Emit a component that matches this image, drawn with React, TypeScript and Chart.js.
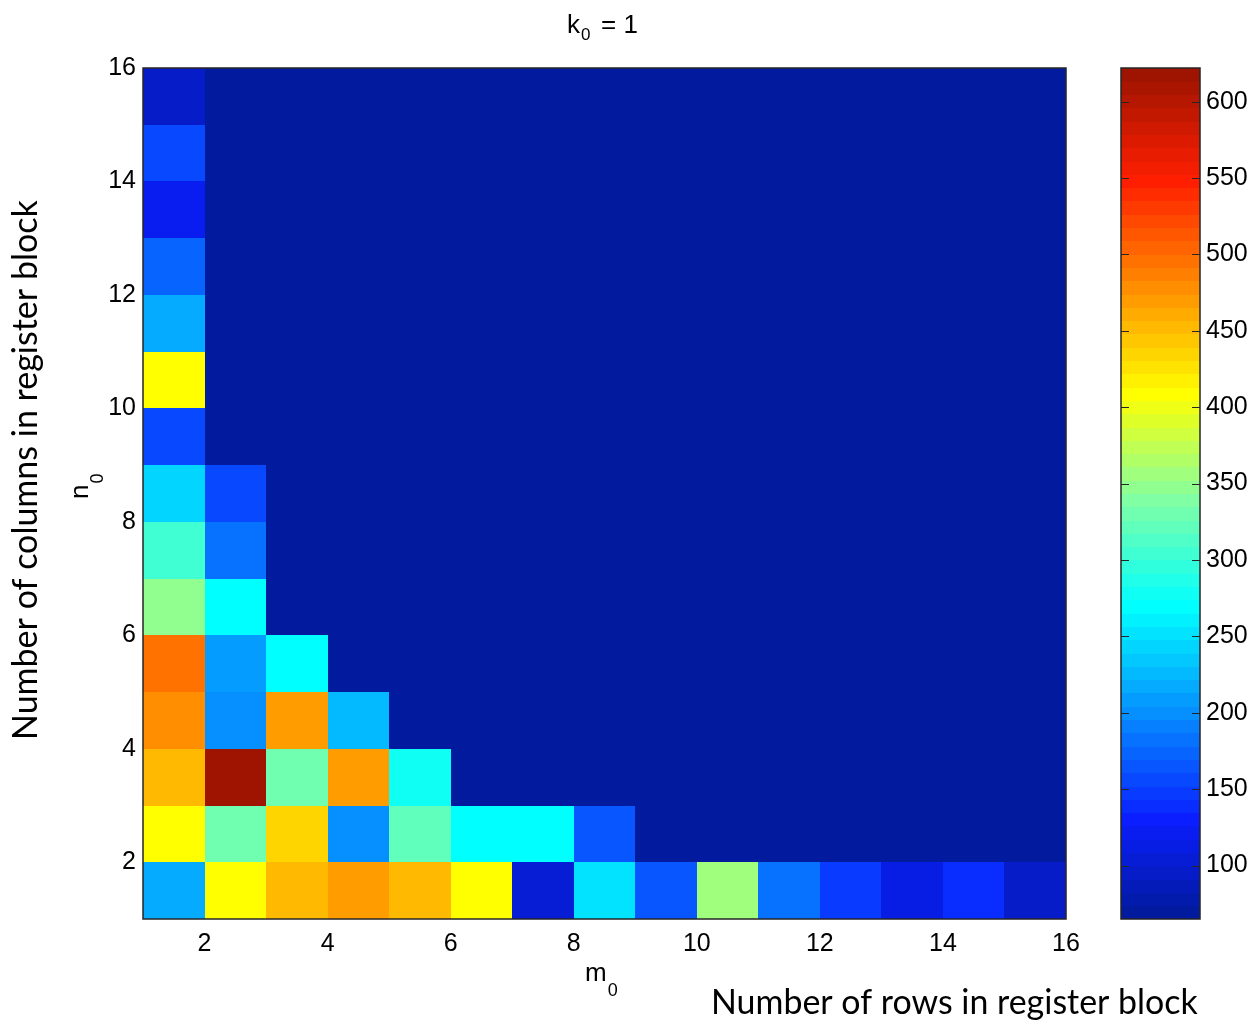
import React, { useEffect, useRef } from 'react';
import { Chart, registerables } from 'chart.js';

Chart.register(...registerables);

// m0: number of rows in register block (cell left edges), n0: columns (cell bottom edges)
const mValues = [1, 2, 3, 4, 5, 6, 7, 8, 9, 10, 11, 12, 13, 14, 15];
const nValues = [1, 2, 3, 4, 5, 6, 7, 8, 9, 10, 11, 12, 13, 14, 15];

// performance values, one array per n0 row (index = m0 - 1)
const rowN1 = [217, 410, 452, 472, 448, 410, 106, 255, 164, 356, 186, 151, 115, 141, 98];
const rowN2 = [405, 329, 439, 196, 318, 270, 270, 164, 65, 65, 65, 65, 65, 65, 65];
const rowN3 = [448, 622, 329, 474, 277, 65, 65, 65, 65, 65, 65, 65, 65, 65, 65];
const rowN4 = [476, 196, 474, 230, 65, 65, 65, 65, 65, 65, 65, 65, 65, 65, 65];
const rowN5 = [494, 210, 270, 65, 65, 65, 65, 65, 65, 65, 65, 65, 65, 65, 65];
const rowN6 = [344, 270, 65, 65, 65, 65, 65, 65, 65, 65, 65, 65, 65, 65, 65];
const rowN7 = [307, 186, 65, 65, 65, 65, 65, 65, 65, 65, 65, 65, 65, 65, 65];
const rowN8 = [245, 153, 65, 65, 65, 65, 65, 65, 65, 65, 65, 65, 65, 65, 65];
const rowN9 = [156, 65, 65, 65, 65, 65, 65, 65, 65, 65, 65, 65, 65, 65, 65];
const rowN10 = [410, 65, 65, 65, 65, 65, 65, 65, 65, 65, 65, 65, 65, 65, 65];
const rowN11 = [213, 65, 65, 65, 65, 65, 65, 65, 65, 65, 65, 65, 65, 65, 65];
const rowN12 = [171, 65, 65, 65, 65, 65, 65, 65, 65, 65, 65, 65, 65, 65, 65];
const rowN13 = [121, 65, 65, 65, 65, 65, 65, 65, 65, 65, 65, 65, 65, 65, 65];
const rowN14 = [153, 65, 65, 65, 65, 65, 65, 65, 65, 65, 65, 65, 65, 65, 65];
const rowN15 = [95, 65, 65, 65, 65, 65, 65, 65, 65, 65, 65, 65, 65, 65, 65];

const rows = [rowN1, rowN2, rowN3, rowN4, rowN5, rowN6, rowN7, rowN8, rowN9, rowN10, rowN11, rowN12, rowN13, rowN14, rowN15];

const xTicks = [2, 4, 6, 8, 10, 12, 14, 16];
const yTicks = [2, 4, 6, 8, 10, 12, 14, 16];
const cTicks = [100, 150, 200, 250, 300, 350, 400, 450, 500, 550, 600];

const cMin = 65;
const cMax = 622;
const levels = 64;

// jet-like colormap anchors (index, rgb)
const anchors: [number, number, number, number][] = [
  [0, 2, 26, 158],
  [7, 10, 30, 255],
  [23, 0, 255, 255],
  [31, 128, 255, 165],
  [39, 255, 255, 0],
  [55, 255, 30, 0],
  [63, 158, 20, 0],
];

function levelColor(i: number): string {
  for (let k = 0; k < anchors.length - 1; k++) {
    const a = anchors[k];
    const b = anchors[k + 1];
    if (i >= a[0] && i <= b[0]) {
      const t = (i - a[0]) / (b[0] - a[0]);
      const r = Math.round(a[1] + (b[1] - a[1]) * t);
      const g = Math.round(a[2] + (b[2] - a[2]) * t);
      const bl = Math.round(a[3] + (b[3] - a[3]) * t);
      return `rgb(${r},${g},${bl})`;
    }
  }
  return 'rgb(0,0,0)';
}

function valueColor(v: number): string {
  let i = Math.floor(((v - cMin) / (cMax - cMin)) * levels);
  if (i < 0) i = 0;
  if (i > levels - 1) i = levels - 1;
  return levelColor(i);
}

const tickFont = { family: '"Liberation Sans", Arial, sans-serif', size: 25 };

const zeroPad = (s: any) => {
  s.paddingTop = 0;
  s.paddingBottom = 0;
  s.paddingLeft = 0;
  s.paddingRight = 0;
};

const heatmapPlugin = {
  id: 'heatmap',
  beforeDatasetsDraw(chart: any) {
    const { ctx, scales } = chart;
    const xs = scales.x;
    const ys = scales.y;
    const cs = scales.c;
    ctx.save();
    rows.forEach((row, ni) => {
      const n = nValues[ni];
      row.forEach((v, mi) => {
        const m = mValues[mi];
        const x0 = Math.round(xs.getPixelForValue(m));
        const x1 = Math.round(xs.getPixelForValue(m + 1));
        const y0 = Math.round(ys.getPixelForValue(n + 1));
        const y1 = Math.round(ys.getPixelForValue(n));
        ctx.fillStyle = valueColor(v);
        ctx.fillRect(x0, y0, x1 - x0, y1 - y0);
      });
    });
    // colorbar
    const cbLeft = 1121;
    const cbRight = 1200;
    const step = (cMax - cMin) / levels;
    for (let i = 0; i < levels; i++) {
      const yA = cs.getPixelForValue(cMin + (i + 1) * step);
      const yB = cs.getPixelForValue(cMin + i * step);
      ctx.fillStyle = levelColor(i);
      ctx.fillRect(cbLeft, Math.floor(yA), cbRight - cbLeft, Math.ceil(yB) - Math.floor(yA));
    }
    ctx.restore();
  },
  afterDraw(chart: any) {
    const { ctx, chartArea, scales } = chart;
    const cs = scales.c;
    ctx.save();
    ctx.strokeStyle = '#262626';
    ctx.lineWidth = 1.5;
    ctx.strokeRect(chartArea.left, chartArea.top, chartArea.right - chartArea.left, chartArea.bottom - chartArea.top);
    const cbLeft = 1121;
    const cbRight = 1200;
    ctx.strokeRect(cbLeft, chartArea.top, cbRight - cbLeft, chartArea.bottom - chartArea.top);
    ctx.lineWidth = 1.2;
    cTicks.forEach((t) => {
      const y = Math.round(cs.getPixelForValue(t)) + 0.5;
      ctx.beginPath();
      ctx.moveTo(cbLeft, y);
      ctx.lineTo(cbLeft + 8, y);
      ctx.moveTo(cbRight - 8, y);
      ctx.lineTo(cbRight, y);
      ctx.stroke();
    });

    ctx.fillStyle = '#000';
    ctx.textBaseline = 'alphabetic';
    ctx.textAlign = 'left';
    const f = '"Liberation Sans", Arial, sans-serif';

    // title k0 = 1
    ctx.font = `26px ${f}`;
    ctx.fillText('k', 567, 33);
    ctx.font = `17px ${f}`;
    ctx.fillText('0', 581, 40);
    ctx.font = `26px ${f}`;
    ctx.fillText('= 1', 601, 33);

    // m0
    ctx.font = `26px ${f}`;
    ctx.fillText('m', 585, 981);
    const mw = ctx.measureText('m').width;
    ctx.font = `18px ${f}`;
    ctx.fillText('0', 585 + mw + 1, 996);

    // n0 (rotated)
    ctx.save();
    ctx.translate(88, 499);
    ctx.rotate(-Math.PI / 2);
    ctx.font = `26px ${f}`;
    ctx.fillText('n', 0, 0);
    const nw = ctx.measureText('n').width;
    ctx.font = `18px ${f}`;
    ctx.fillText('0', nw + 1, 15);
    ctx.restore();

    // axis titles
    const tf = 'Lato, "Open Sans", sans-serif';
    const xTitle = 'Number of rows in register block';
    ctx.font = `30px ${tf}`;
    let w = ctx.measureText(xTitle).width;
    let size = (30 * 487) / w;
    ctx.font = `${size}px ${tf}`;
    ctx.fillText(xTitle, 711, 1014);

    const yTitle = 'Number of columns in register block';
    ctx.font = `30px ${tf}`;
    w = ctx.measureText(yTitle).width;
    size = (30 * 540) / w;
    ctx.save();
    ctx.translate(37, 740);
    ctx.rotate(-Math.PI / 2);
    ctx.font = `${size}px ${tf}`;
    ctx.fillText(yTitle, 0, 0);
    ctx.restore();

    ctx.restore();
  },
};

export default function App() {
  const ref = useRef<HTMLCanvasElement | null>(null);

  useEffect(() => {
    if (!ref.current) return;
    const chart = new Chart(ref.current, {
      type: 'scatter',
      data: { datasets: [{ data: [] }] },
      options: {
        responsive: false,
        animation: false,
        devicePixelRatio: 1,
        layout: { padding: { top: 68, left: 0, right: 0, bottom: 0 } },
        plugins: {
          legend: { display: false },
          tooltip: { enabled: false },
          title: { display: false },
        },
        scales: {
          x: {
            type: 'linear',
            min: 1,
            max: 16,
            grid: { display: false, drawTicks: false },
            border: { display: false },
            ticks: { font: tickFont, color: '#000', padding: 10, maxRotation: 0 },
            afterBuildTicks: (s: any) => {
              s.ticks = xTicks.map((v) => ({ value: v }));
            },
            afterFit: (s: any) => {
              s.height = 104;
              zeroPad(s);
            },
          },
          y: {
            type: 'linear',
            min: 1,
            max: 16,
            grid: { display: false, drawTicks: false },
            border: { display: false },
            ticks: { font: tickFont, color: '#000', padding: 7 },
            afterBuildTicks: (s: any) => {
              s.ticks = yTicks.map((v) => ({ value: v }));
            },
            afterFit: (s: any) => {
              s.width = 143;
              zeroPad(s);
            },
          },
          c: {
            type: 'linear',
            axis: 'y',
            position: 'right',
            min: cMin,
            max: cMax,
            grid: { display: false, drawTicks: false },
            border: { display: false },
            ticks: { font: tickFont, color: '#000', padding: 140 },
            afterBuildTicks: (s: any) => {
              s.ticks = cTicks.map((v) => ({ value: v }));
            },
            afterFit: (s: any) => {
              s.width = 187;
              zeroPad(s);
            },
          },
        },
      } as any,
      plugins: [heatmapPlugin],
    });
    return () => chart.destroy();
  }, []);

  return (
    <div style={{ position: 'absolute', left: 0, top: 0, width: 1253, height: 1023, background: '#fff' }}>
      <canvas ref={ref} width={1253} height={1023} style={{ display: 'block' }} />
    </div>
  );
}
